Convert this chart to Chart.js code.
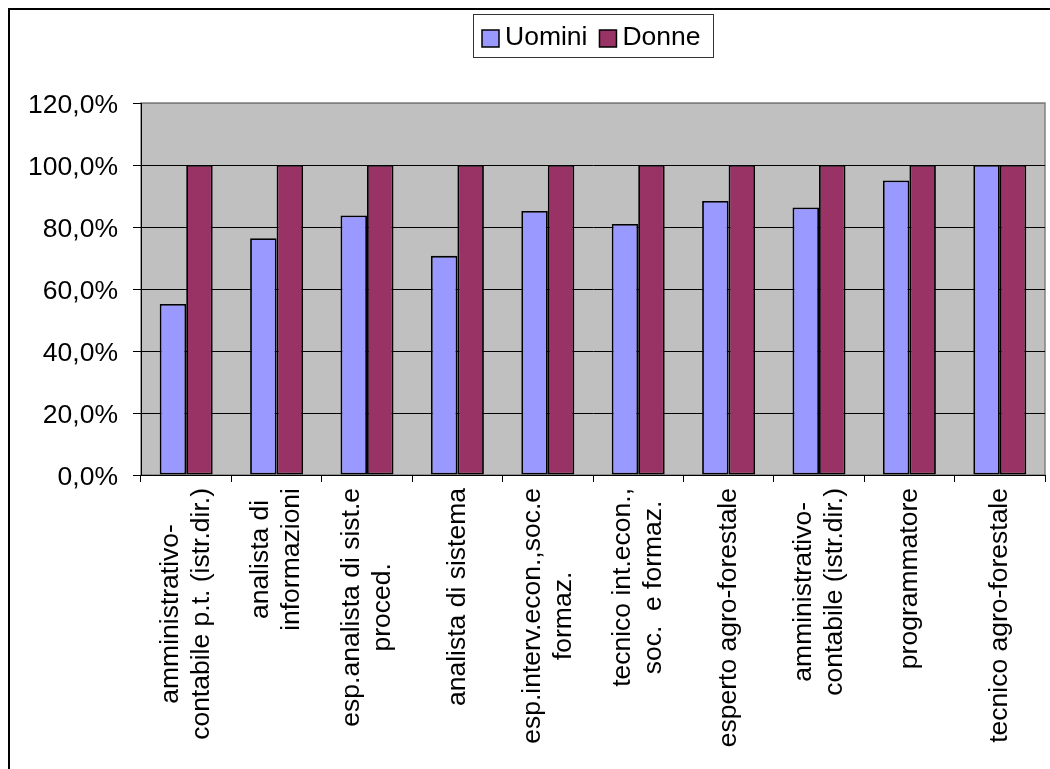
<!DOCTYPE html>
<html>
<head>
<meta charset="utf-8">
<title>Uomini e Donne per profilo</title>
<script src="https://cdn.jsdelivr.net/npm/chart.js@4"></script>
<style>
  body { margin: 0; background: #fff; }
  canvas { display: block; }
</style>
</head>
<body>
<canvas id="chart" width="1050" height="769"></canvas>
<script>
// profili (each entry = the lines of one axis label)
const categories = [
  ['amministrativo-', 'contabile p.t. (istr.dir.)'],
  ['analista di', 'informazioni'],
  ['esp.analista di sist.e', 'proced.'],
  ['analista di sistema'],
  ['esp.interv.econ.,soc.e', 'formaz.'],
  ['tecnico int.econ.,', 'soc.  e formaz.'],
  ['esperto agro-forestale'],
  ['amministrativo-', 'contabile (istr.dir.)'],
  ['programmatore'],
  ['tecnico agro-forestale']
];
const uomini = [55.2, 76.4, 83.7, 70.7, 85.2, 81.0, 88.4, 86.3, 95.0, 100.0];
const donne = [100.0, 100.0, 100.0, 100.0, 100.0, 100.0, 100.0, 100.0, 100.0, 100.0];
const yTicks = [0, 20, 40, 60, 80, 100, 120];

const FONT = '"Liberation Sans", Arial, sans-serif';
const FONT_SIZE = 26.5;

function pct(v) {
  return v.toFixed(1).replace('.', ',') + '%';
}

// outer frame + grey plot background
const backdrop = {
  id: 'backdrop',
  beforeDraw(chart) {
    const { ctx, chartArea: a } = chart;
    ctx.save();
    ctx.strokeStyle = '#000';
    ctx.lineWidth = 2;
    ctx.beginPath();
    ctx.moveTo(9, chart.height);
    ctx.lineTo(9, 9);
    ctx.lineTo(chart.width, 9);
    ctx.stroke();

    ctx.fillStyle = '#c0c0c0';
    ctx.fillRect(a.left, a.top, a.right - a.left, a.bottom - a.top);
    ctx.strokeStyle = '#808080';
    ctx.lineWidth = 1.5;
    ctx.strokeRect(a.left, a.top, a.right - a.left, a.bottom - a.top);
    ctx.restore();
  }
};

// boxed legend above the plot
const boxedLegend = {
  id: 'boxedLegend',
  afterDraw(chart) {
    const ctx = chart.ctx;
    ctx.save();
    ctx.strokeStyle = '#333';
    ctx.lineWidth = 1;
    ctx.strokeRect(473.5, 14.5, 240, 43);
    ctx.font = FONT_SIZE + 'px ' + FONT;
    ctx.textBaseline = 'middle';
    ctx.textAlign = 'left';
    let x = 482;
    chart.data.datasets.forEach(ds => {
      ctx.fillStyle = ds.backgroundColor;
      ctx.fillRect(x, 30, 17, 17);
      ctx.strokeStyle = '#000';
      ctx.lineWidth = 1.5;
      ctx.strokeRect(x, 30, 17, 17);
      ctx.fillStyle = '#000';
      ctx.fillText(ds.label, x + 23, 38);
      x += 23 + ctx.measureText(ds.label).width + 12;
    });
    ctx.restore();
  }
};

// vertical category labels, lines centred on each other
const categoryLabels = {
  id: 'categoryLabels',
  afterDraw(chart) {
    const ctx = chart.ctx;
    const xs = chart.scales.x;
    const lineH = 31;
    const topY = 488;
    ctx.save();
    ctx.font = FONT_SIZE + 'px ' + FONT;
    ctx.fillStyle = '#000';
    ctx.textAlign = 'center';
    ctx.textBaseline = 'middle';
    categories.forEach((lines, i) => {
      const cx = xs.getPixelForValue(i);
      const w = Math.max(...lines.map(l => ctx.measureText(l).width));
      ctx.save();
      ctx.translate(cx, topY);
      ctx.rotate(-Math.PI / 2);
      lines.forEach((line, k) => {
        const off = (k - (lines.length - 1) / 2) * lineH;
        ctx.fillText(line, -w / 2, off);
      });
      ctx.restore();
    });
    ctx.restore();
  }
};

new Chart(document.getElementById('chart'), {
  type: 'bar',
  data: {
    labels: categories,
    datasets: [
      {
        label: 'Uomini',
        data: uomini,
        backgroundColor: '#9999ff',
        borderColor: '#000',
        borderWidth: 1.8,
        borderSkipped: false
      },
      {
        label: 'Donne',
        data: donne,
        backgroundColor: '#993366',
        borderColor: '#000',
        borderWidth: 1.8,
        borderSkipped: false
      }
    ]
  },
  options: {
    responsive: false,
    animation: false,
    events: [],
    datasets: {
      bar: { categoryPercentage: 0.586, barPercentage: 1.0 }
    },
    layout: { padding: { top: 103, right: 5, left: 0, bottom: 0 } },
    plugins: {
      legend: { display: false },
      tooltip: { enabled: false }
    },
    scales: {
      x: {
        grid: {
          offset: true,
          drawOnChartArea: false,
          drawTicks: true,
          tickLength: 7,
          tickColor: '#000'
        },
        border: { color: '#000', width: 1 },
        ticks: { display: false },
        afterFit(scale) { scale.height = 294; }
      },
      y: {
        min: yTicks[0],
        max: yTicks[yTicks.length - 1],
        afterBuildTicks(scale) {
          scale.ticks = yTicks.map(v => ({ value: v }));
        },
        ticks: {
          color: '#000',
          padding: 15,
          labelOffset: 3,
          font: { family: FONT, size: FONT_SIZE },
          callback: v => pct(v)
        },
        grid: {
          color: c => (c.tick && c.tick.value === 120 ? '#808080' : '#000'),
          lineWidth: 1,
          tickLength: 8,
          tickColor: '#000'
        },
        border: { color: '#000', width: 1 },
        afterFit(scale) { scale.width = 141; }
      }
    }
  },
  plugins: [backdrop, boxedLegend, categoryLabels]
});
</script>
</body>
</html>
